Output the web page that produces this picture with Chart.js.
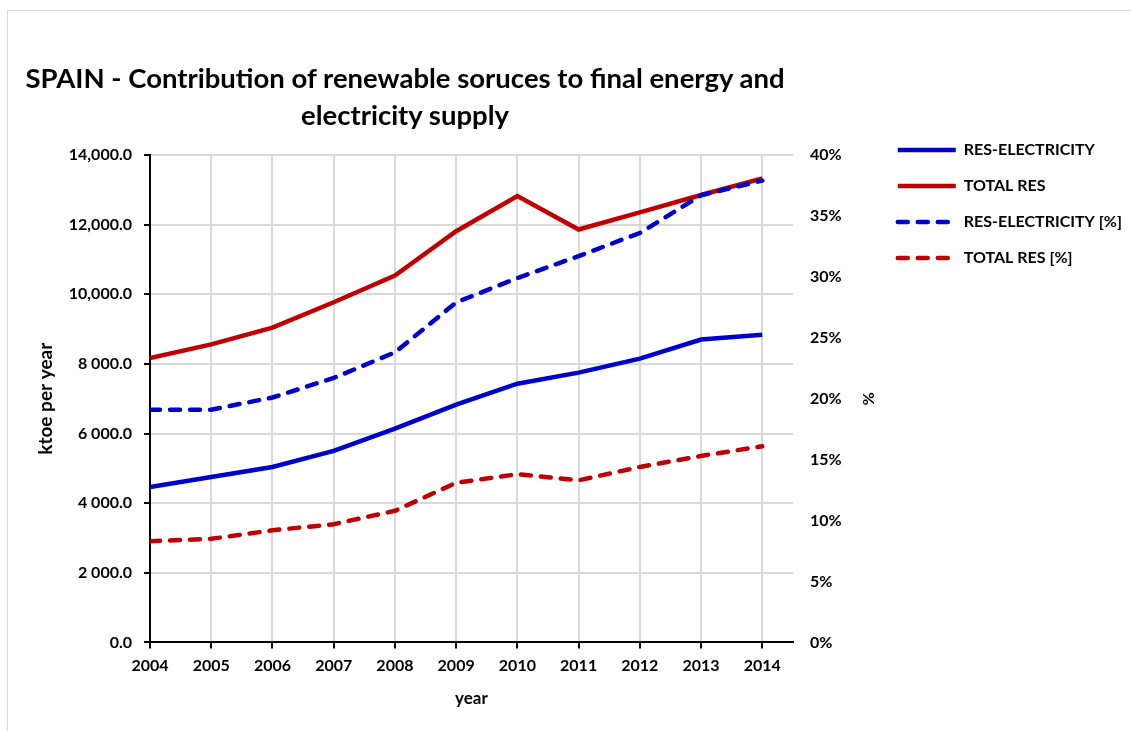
<!DOCTYPE html>
<html>
<head>
<meta charset="utf-8">
<script src="https://cdn.jsdelivr.net/npm/chart.js"></script>
<style>
  body { margin: 0; background: #fff; }
  #wrap { position: relative; width: 1131px; height: 731px; overflow: hidden; }
  #frame { position: absolute; left: 7px; top: 10px; width: 1200px; height: 800px; border: 1px solid #d9d9d9; }
  #title { position: absolute; left: 0; top: 59px; width: 810px; text-align: center;
           font: bold 27.5px Lato, sans-serif; line-height: 37px; color: #000; }
  canvas { position: absolute; left: 0; top: 0; }
</style>
</head>
<body>
<div id="wrap">
  <div id="frame"></div>
  <canvas id="myChart" width="1131" height="731"></canvas>
  <div id="title">SPAIN - Contribution of renewable soruces to final energy and<br>electricity supply</div>
</div>
<script>
const years = [2004, 2005, 2006, 2007, 2008, 2009, 2010, 2011, 2012, 2013, 2014];
const resElectricity = [4460, 4750, 5040, 5500, 6140, 6830, 7430, 7750, 8150, 8700, 8840];
const totalRes = [8170, 8560, 9040, 9770, 10540, 11810, 12820, 11860, 12350, 12850, 13330];
const resElectricityPct = [19.1, 19.1, 20.1, 21.7, 23.8, 27.9, 29.9, 31.7, 33.6, 36.7, 37.9];
const totalResPct = [8.3, 8.5, 9.2, 9.7, 10.8, 13.1, 13.8, 13.3, 14.4, 15.3, 16.1];

const yTickLabels = ["0.0", "2 000.0", "4 000.0", "6 000.0", "8 000.0", "10,000.0", "12,000.0", "14,000.0"];

const blue = "#0000cc";
const red = "#c00000";
const dash = [10, 10];

Chart.defaults.font.family = "Lato, sans-serif";
Chart.defaults.font.weight = "bold";
Chart.defaults.font.size = 16;
Chart.defaults.color = "#000";

// legend lines: point-style items lose the dataset dash, so put it back
function legendLabels(chart) {
  const items = Chart.defaults.plugins.legend.labels.generateLabels(chart);
  return items.map((item) => {
    const ds = chart.data.datasets[item.datasetIndex];
    return {
      ...item,
      lineWidth: ds.borderWidth,
      strokeStyle: ds.borderColor,
      lineDash: ds.borderDash || [],
      lineCap: ds.borderCapStyle || "butt",
    };
  });
}

new Chart("myChart", {
  type: "line",
  data: {
    labels: years,
    datasets: [
      { label: "RES-ELECTRICITY", data: resElectricity, borderColor: blue, backgroundColor: blue, borderWidth: 4.5, yAxisID: "y", order: 4 },
      { label: "TOTAL RES", data: totalRes, borderColor: red, backgroundColor: red, borderWidth: 4.5, yAxisID: "y", order: 3 },
      { label: "RES-ELECTRICITY [%]", data: resElectricityPct, borderColor: blue, backgroundColor: blue, borderWidth: 4.5, borderDash: dash, borderCapStyle: "round", yAxisID: "y1", order: 1 },
      { label: "TOTAL RES [%]", data: totalResPct, borderColor: red, backgroundColor: red, borderWidth: 4.5, borderDash: dash, borderCapStyle: "round", yAxisID: "y1", order: 2 },
    ],
  },
  options: {
    responsive: false,
    animation: false,
    elements: { point: { radius: 0 }, line: { tension: 0 } },
    layout: { padding: { top: 122, left: 30, right: -1, bottom: 13 } },
    plugins: {
      // empty spacer so the plot starts below the html title while the legend stays up
      title: { display: true, text: "", fullSize: false, padding: { top: 21, bottom: 0 }, font: { size: 10 } },
      legend: {
        position: "right",
        align: "start",
        maxWidth: 300,
        labels: {
          usePointStyle: true,
          pointStyle: "line",
          pointStyleWidth: 58,
          padding: 20,
          font: { size: 16, weight: "bold" },
          sort: (a, b) => a.datasetIndex - b.datasetIndex,
          generateLabels: legendLabels,
        },
      },
      tooltip: { enabled: false },
    },
    scales: {
      x: {
        type: "linear",
        min: 2004,
        max: 2014.5,
        border: { color: "#000", width: 2 },
        grid: { color: "#d9d9d9", lineWidth: 2, tickColor: "#000", tickLength: 6 },
        ticks: { stepSize: 1, includeBounds: false, padding: 8, callback: (v) => String(v) },
        title: { display: true, text: "year", font: { size: 17 }, padding: { top: 5, bottom: 9 } },
      },
      y: {
        position: "left",
        min: 0,
        max: 14000,
        border: { color: "#000", width: 2 },
        grid: { color: "#d9d9d9", lineWidth: 2, tickColor: "#000", tickLength: 6 },
        ticks: { stepSize: 2000, padding: 12, callback: (v) => yTickLabels[v / 2000] },
        title: { display: true, text: "ktoe per year", font: { size: 19 }, padding: { top: 4, bottom: 0 } },
      },
      y1: {
        position: "right",
        min: 0,
        max: 40,
        border: { display: false },
        grid: { display: false, drawTicks: false },
        ticks: { stepSize: 5, padding: 17, callback: (v) => v + "%" },
        title: { display: true, text: "%", font: { size: 16 }, padding: { top: 0, bottom: 0 } },
      },
    },
  },
});
</script>
</body>
</html>
